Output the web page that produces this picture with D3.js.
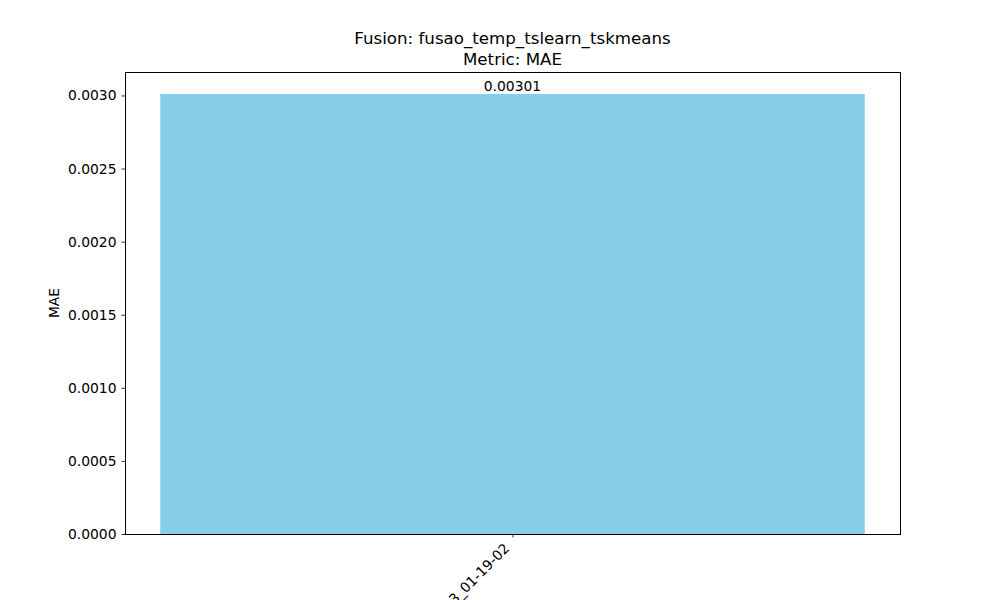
<!DOCTYPE html>
<html><head><meta charset="utf-8">
<script src="https://cdn.jsdelivr.net/npm/d3@7"></script>
<style>body{margin:0;background:#fff}svg{display:block}text{font-family:"DejaVu Sans",sans-serif;fill:#000}</style>
</head><body><svg id="c" width="1000" height="600"></svg>
<script>
const categories = ["2025-06-13_01-19-02"];
const values = [0.00301];
const valueLabels = ["0.00301"];
const yTicks = [0, 0.0005, 0.001, 0.0015, 0.002, 0.0025, 0.003];
const titleLines = ["Fusion: fusao_temp_tslearn_tskmeans", "Metric: MAE"];
const yLabel = "MAE";

const svg = d3.select("#c");
const L = 125, R = 900, T = 72, B = 534;
const FS = "13.89px";
const n = categories.length;
const x = d3.scaleLinear().domain([-0.44, n - 1 + 0.44]).range([L, R]);
const y = d3.scaleLinear().domain([0, d3.max(values) * 1.05]).range([B, T]);

svg.selectAll("rect.bar").data(values).join("rect").attr("class", "bar")
  .attr("x", (d, i) => x(i - 0.4)).attr("width", (d, i) => x(i + 0.4) - x(i - 0.4))
  .attr("y", d => y(d)).attr("height", d => B - y(d)).attr("fill", "#87ceeb");

svg.selectAll("text.vl").data(values).join("text").attr("class", "vl")
  .attr("x", (d, i) => x(i)).attr("y", d => y(d) - 3)
  .attr("text-anchor", "middle").attr("font-size", FS).text((d, i) => valueLabels[i]);

const yAxis = d3.axisLeft(y).tickValues(yTicks).tickFormat(d3.format(".4f")).tickSizeOuter(0).tickSize(3.5).tickPadding(5);
const gy = svg.append("g").attr("transform", `translate(${L},0)`).call(yAxis);
gy.select(".domain").remove();
gy.selectAll("text").attr("font-size", FS).style("font-family", "DejaVu Sans");
gy.selectAll("line").attr("stroke", "#000").attr("stroke-width", 0.8);

const xAxis = d3.axisBottom(x).tickValues(d3.range(n)).tickFormat(i => categories[i]).tickSize(3.5).tickSizeOuter(0);
const gx = svg.append("g").attr("transform", `translate(0,${B})`).call(xAxis);
gx.select(".domain").remove();
gx.selectAll("line").attr("stroke", "#000").attr("stroke-width", 0.8);
gx.selectAll("text").attr("font-size", FS).style("font-family", "DejaVu Sans")
  .attr("text-anchor", "end").attr("dy", null).attr("y", 0)
  .attr("transform", "translate(-5.5,12.5) rotate(-45)").attr("dominant-baseline", "middle");

svg.append("rect").attr("x", L + 0.5).attr("y", T + 0.5).attr("width", R - L).attr("height", B - T)
  .attr("fill", "none").attr("stroke", "#000").attr("stroke-width", 1);

svg.append("text").attr("transform", `translate(59,${(T + B) / 2}) rotate(-90)`)
  .attr("text-anchor", "middle").attr("font-size", FS).text(yLabel);

svg.selectAll("text.title").data(titleLines).join("text").attr("class", "title")
  .attr("x", (L + R) / 2).attr("y", (d, i) => 43.5 + i * 21)
  .attr("text-anchor", "middle").attr("font-size", "16.67px").text(d => d);
</script></body></html>
